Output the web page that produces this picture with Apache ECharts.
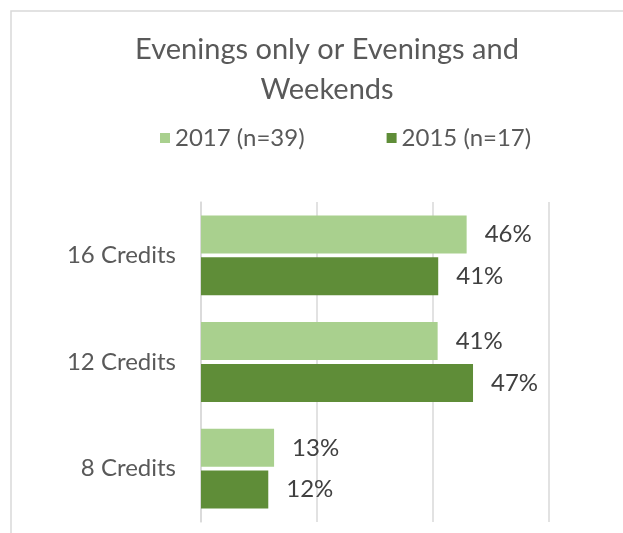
<!DOCTYPE html>
<html>
<head>
<meta charset="utf-8">
<script src="https://cdn.jsdelivr.net/npm/echarts@6/dist/echarts.min.js"></script>
<style>
  html, body { margin: 0; padding: 0; background: #fff; }
  #echartDiv { width: 623px; height: 533px; }
</style>
</head>
<body>
<div id="echartDiv"></div>
<script>
// 数据
const categories = ["16 Credits", "12 Credits", "8 Credits"];
const seriesNames = ["2017 (n=39)", "2015 (n=17)"];
const values2017 = [45.8, 40.8, 12.6];
const values2015 = [40.9, 46.9, 11.6];
const xTicks = [0, 20, 40, 60];

const fontFamily = "Lato, 'Open Sans', sans-serif";

let chartDom = document.getElementById("echartDiv");
let myChart = echarts.init(chartDom);
let option = {
  backgroundColor: "#fff",
  animation: false,
  title: {
    text: "Evenings only or Evenings and\nWeekends",
    left: 322,
    top: 25,
    textAlign: "center",
    textStyle: {
      color: "#595959",
      fontFamily: fontFamily,
      fontSize: 29,
      fontWeight: "normal",
      lineHeight: 40,
    },
  },
  legend: {
    left: 155,
    top: 121,
    icon: "rect",
    itemWidth: 10,
    itemHeight: 10,
    itemGap: 82,
    textStyle: {
      color: "#595959",
      fontFamily: fontFamily,
      fontSize: 24,
    },
    data: seriesNames,
  },
  grid: {
    left: 201,
    right: 74,
    top: 202,
    bottom: 11,
  },
  xAxis: {
    type: "value",
    min: xTicks[0],
    max: xTicks[xTicks.length - 1],
    interval: xTicks[1] - xTicks[0],
    axisLabel: { show: false },
    axisLine: { show: false },
    axisTick: { show: false },
    splitLine: {
      lineStyle: { color: "#d9d9d9", width: 1.5 },
    },
  },
  yAxis: {
    type: "category",
    inverse: true,
    data: categories,
    axisLine: { lineStyle: { color: "#d9d9d9", width: 1.5 } },
    axisTick: { length: 8, lineStyle: { color: "#d9d9d9", width: 1.5 } },
    axisLabel: {
      color: "#595959",
      fontFamily: fontFamily,
      fontSize: 24,
      margin: 25,
    },
  },
  graphic: [
    {
      type: "rect",
      silent: true,
      shape: { x: 11, y: 11, width: 700, height: 600 },
      style: { fill: "none", stroke: "#d9d9d9", lineWidth: 1.5 },
    },
  ],
  series: [
    {
      name: seriesNames[0],
      type: "bar",
      data: values2017,
      barWidth: 38,
      barGap: "10%",
      itemStyle: { color: "#A9D08E" },
      label: {
        show: true,
        position: "right",
        distance: 18,
        color: "#404040",
        fontFamily: fontFamily,
        fontSize: 24,
        formatter: (p) => Math.round(p.value) + "%",
      },
    },
    {
      name: seriesNames[1],
      type: "bar",
      data: values2015,
      barWidth: 38,
      barGap: "10%",
      itemStyle: { color: "#5F8D38" },
      label: {
        show: true,
        position: "right",
        distance: 18,
        color: "#404040",
        fontFamily: fontFamily,
        fontSize: 24,
        formatter: (p) => Math.round(p.value) + "%",
      },
    },
  ],
};
option && myChart.setOption(option);
</script>
</body>
</html>
